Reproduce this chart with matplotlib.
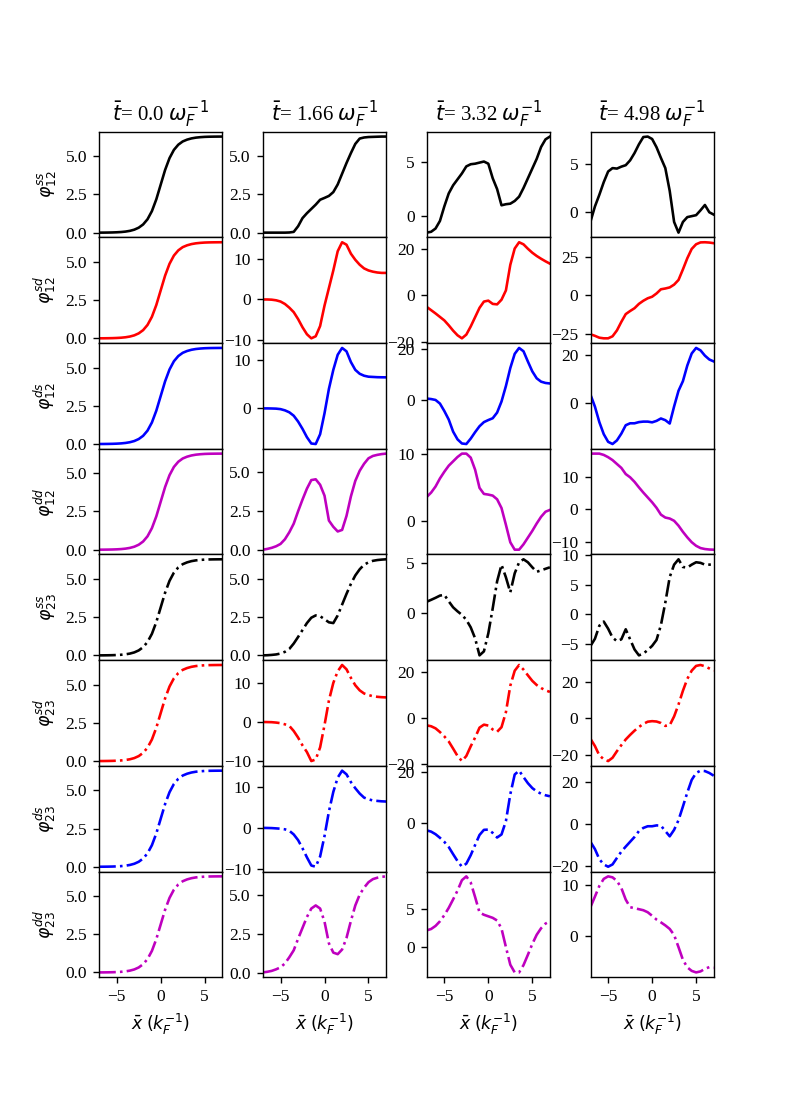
import numpy as np
import matplotlib
matplotlib.use("Agg")
import matplotlib.pyplot as plt

plt.rcParams['font.family'] = ['Liberation Serif', 'DejaVu Serif']
plt.rcParams['mathtext.fontset'] = 'dejavusans'

DPI = 125
x = np.arange(-7.0, 7.01, 0.5)

times = ["0.0", "1.66", "3.32", "4.98"]
ylabels = [r"$\varphi^{ss}_{12}$", r"$\varphi^{sd}_{12}$", r"$\varphi^{ds}_{12}$", r"$\varphi^{dd}_{12}$",
           r"$\varphi^{ss}_{23}$", r"$\varphi^{sd}_{23}$", r"$\varphi^{ds}_{23}$", r"$\varphi^{dd}_{23}$"]
colors = ['k', 'r', 'b', 'm', 'k', 'r', 'b', 'm']
styles = ['-', '-', '-', '-', '-.', '-.', '-.', '-.']

# t = 0.0 (all eight components share the same kink profile)
kink_t0 = [0.004, 0.006, 0.010, 0.016, 0.027, 0.044, 0.073, 0.121, 0.199, 0.328, 0.538, 0.878, 1.41, 2.18,
           3.14, 4.10, 4.87, 5.41, 5.75, 5.96, 6.08, 6.16, 6.21, 6.24, 6.26, 6.27, 6.275, 6.278, 6.28]

# t = 1.66
ss12_t1 = [0, 0, 0, 0, 0, 0, 0.01, 0.05, 0.42, 0.95, 1.27, 1.55, 1.83, 2.15,
           2.27, 2.4, 2.65, 3.15, 3.85, 4.55, 5.2, 5.8, 6.15, 6.22, 6.25, 6.26, 6.27, 6.28, 6.28]
sd12_t1 = [0, 0, -0.05, -0.2, -0.5, -1.1, -2.0, -3.1, -4.8, -6.8, -8.5, -9.5, -9.0, -6.5,
           -1.5, 2.8, 7.1, 11.8, 14.0, 13.4, 11.2, 9.7, 8.5, 7.6, 7.1, 6.8, 6.6, 6.5, 6.5]
ds12_t1 = [0, 0, -0.02, -0.05, -0.15, -0.4, -0.8, -1.5, -2.7, -4.2, -5.9, -7.2, -7.3, -5.3,
           -1.0, 4.0, 7.9, 11.0, 12.4, 11.7, 9.5, 7.9, 7.1, 6.7, 6.5, 6.45, 6.4, 6.38, 6.37]
dd12_t1 = [0.03, 0.08, 0.15, 0.25, 0.4, 0.7, 1.15, 1.7, 2.5, 3.25, 3.95, 4.5, 4.55, 4.2,
           3.5, 1.9, 1.5, 1.2, 1.3, 2.2, 3.45, 4.45, 5.1, 5.55, 5.9, 6.05, 6.12, 6.17, 6.2]
ss23_t1 = [0.0, 0.01, 0.03, 0.06, 0.12, 0.23, 0.42, 0.77, 1.2, 1.65, 2.1, 2.45, 2.6, 2.55,
           2.35, 2.15, 2.1, 2.6, 3.3, 4.0, 4.65, 5.2, 5.6, 5.9, 6.05, 6.15, 6.2, 6.23, 6.25]
sd23_t1 = [0, -0.02, -0.05, -0.15, -0.3, -0.6, -1.0, -2.3, -4.0, -6.0, -7.7, -10.0, -9.6, -6.5,
           -0.8, 5.5, 10.0, 13.0, 14.6, 13.5, 11.3, 9.4, 8.1, 7.3, 6.9, 6.6, 6.45, 6.35, 6.3]
ds23_t1 = [0, -0.02, -0.05, -0.12, -0.2, -0.35, -0.7, -1.6, -3.0, -5.0, -7.2, -9.2, -9.5, -7.0,
           -2.0, 4.0, 8.8, 12.3, 14.0, 13.1, 11.2, 9.7, 8.4, 7.4, 7.0, 6.7, 6.6, 6.5, 6.45]
dd23_t1 = [0.02, 0.06, 0.12, 0.22, 0.35, 0.6, 1.0, 1.45, 2.2, 2.9, 3.6, 4.15, 4.35, 4.15,
           3.3, 1.9, 1.3, 1.2, 1.5, 2.25, 3.35, 4.35, 5.05, 5.5, 5.85, 6.05, 6.14, 6.2, 6.23]

# t = 3.32
ss12_t2 = [-1.53, -1.45, -1.15, -0.45, 0.9, 2.1, 2.85, 3.4, 3.95, 4.6, 4.8, 4.85, 4.95, 5.05,
           4.85, 3.5, 2.5, 1.0, 1.1, 1.15, 1.4, 1.8, 2.6, 3.5, 4.4, 5.3, 6.4, 7.1, 7.36]
sd12_t2 = [-5.1, -6.5, -7.9, -9.4, -10.9, -13.0, -15.3, -17.3, -18.6, -17.0, -13.5, -9.5, -5.5, -2.8,
           -2.4, -3.8, -4.0, -2.0, 2.0, 13.0, 20.0, 22.7, 21.8, 19.9, 18.2, 16.8, 15.6, 14.5, 13.5]
ds12_t2 = [0.65, 0.45, 0.1, -1.3, -4.2, -7.5, -12.2, -15.2, -16.8, -17.0, -14.9, -12.4, -10.1, -8.5,
           -7.7, -7.0, -4.8, -0.5, 5.5, 12.5, 18.0, 20.3, 19.0, 15.0, 11.2, 8.5, 7.2, 6.7, 6.5]
dd12_t2 = [3.55, 4.2, 5.1, 6.3, 7.3, 8.2, 8.85, 9.5, 10.0, 10.0, 9.4, 7.6, 4.9, 4.0,
           3.9, 3.75, 3.2, 1.9, -0.6, -3.2, -4.3, -4.3, -3.5, -2.5, -1.5, -0.4, 0.6, 1.35, 1.62]
ss23_t2 = [1.16, 1.35, 1.55, 1.77, 1.85, 1.2, 0.6, 0.2, -0.15, -0.65, -1.4, -2.5, -4.2, -3.8,
           -2.0, 0.5, 3.2, 4.85, 3.6, 2.1, 4.0, 5.1, 5.4, 5.1, 4.6, 4.15, 4.3, 4.45, 4.6]
sd23_t2 = [-3.2, -3.6, -4.5, -6.1, -8.0, -10.2, -13.3, -16.5, -18.7, -16.5, -12.3, -8.5, -4.2, -2.9,
           -3.3, -5.0, -6.0, -4.0, 2.5, 14.0, 20.5, 23.0, 21.0, 18.5, 16.1, 14.3, 13.0, 12.0, 11.3]
ds23_t2 = [-2.8, -3.3, -4.3, -5.7, -7.3, -9.3, -12.1, -14.8, -17.0, -15.8, -12.5, -8.5, -4.6, -2.6,
           -2.5, -3.8, -5.6, -4.4, 0.8, 11.3, 19.0, 20.5, 18.0, 15.6, 13.7, 12.4, 11.5, 10.9, 10.5]
dd23_t2 = [2.17, 2.35, 2.75, 3.35, 4.15, 5.1, 6.2, 7.35, 8.7, 9.2, 8.4, 6.5, 4.5, 4.2,
           4.0, 3.8, 3.45, 2.4, 0.0, -2.3, -3.3, -3.3, -2.35, -1.0, 0.4, 1.6, 2.45, 3.05, 3.36]

# t = 4.98
ss12_t3 = [-0.94, 0.6, 1.8, 3.1, 4.2, 4.55, 4.5, 4.7, 4.85, 5.35, 6.1, 7.0, 7.75, 7.8,
           7.55, 6.7, 5.6, 4.55, 2.2, -1.0, -2.1, -1.0, -0.5, -0.4, -0.3, 0.2, 0.75, 0.0, -0.24]
sd12_t3 = [-25.0, -26.0, -27.2, -27.6, -27.6, -26.3, -22.5, -17.0, -12.0, -10.0, -8.2, -5.4, -3.4, -1.8,
           -0.8, 1.3, 4.0, 4.5, 5.2, 7.0, 10.0, 16.8, 24.0, 30.0, 33.0, 34.2, 34.3, 34.1, 33.7]
ds12_t3 = [3.3, -1.6, -8.0, -13.0, -16.2, -17.1, -15.6, -12.8, -9.3, -8.5, -8.5, -8.0, -7.8, -7.8,
           -8.1, -7.5, -6.5, -7.2, -8.6, -1.5, 5.0, 9.0, 15.5, 20.5, 22.8, 21.8, 19.6, 18.0, 17.2]
dd12_t3 = [17.2, 17.2, 17.2, 16.8, 16.1, 15.2, 14.0, 12.8, 10.9, 9.9, 8.5, 6.8, 5.2, 3.7,
           2.2, 0.5, -1.6, -2.5, -2.8, -3.5, -5.0, -6.9, -8.6, -10.1, -11.2, -11.9, -12.2, -12.35, -12.4]
ss23_t3 = [-5.3, -4.1, -1.9, -1.2, -2.4, -3.9, -4.5, -4.2, -2.5, -4.2, -5.9, -6.9, -6.6, -6.0,
           -5.3, -4.3, -1.8, 2.0, 6.3, 8.4, 9.3, 8.0, 7.9, 8.4, 8.8, 8.7, 8.4, 8.4, 8.4]
sd23_t3 = [-11.3, -15.2, -20.3, -22.4, -23.4, -21.6, -18.0, -14.7, -11.6, -9.1, -6.8, -4.8, -3.1, -1.9,
           -1.6, -1.8, -2.6, -4.2, -3.8, 1.0, 7.5, 15.0, 21.5, 26.0, 28.6, 29.1, 28.4, 27.2, 26.0]
ds23_t3 = [-8.4, -11.8, -16.6, -19.1, -20.2, -19.1, -16.0, -13.0, -10.6, -8.3, -6.0, -3.2, -1.7, -0.9,
           -0.9, -0.5, -0.6, -3.2, -5.7, -2.6, 2.0, 8.5, 15.2, 21.2, 24.5, 25.6, 25.4, 24.5, 23.2]
dd23_t3 = [5.75, 7.8, 9.9, 11.3, 11.8, 11.6, 10.9, 9.5, 7.2, 5.7, 5.5, 5.3, 5.1, 4.7,
           4.0, 3.25, 2.7, 2.1, 1.4, 0.2, -2.2, -4.7, -6.2, -6.9, -7.2, -7.0, -6.5, -6.15, -6.3]

columns = [
    [kink_t0] * 8,
    [ss12_t1, sd12_t1, ds12_t1, dd12_t1, ss23_t1, sd23_t1, ds23_t1, dd23_t1],
    [ss12_t2, sd12_t2, ds12_t2, dd12_t2, ss23_t2, sd23_t2, ds23_t2, dd23_t2],
    [ss12_t3, sd12_t3, ds12_t3, dd12_t3, ss23_t3, sd23_t3, ds23_t3, dd23_t3],
]

fig, axes = plt.subplots(8, 4, sharex=True, figsize=(793 / DPI, 1098 / DPI), dpi=DPI,
                         gridspec_kw=dict(hspace=0.0, wspace=0.33))

for c in range(4):
    for r in range(8):
        ax = axes[r, c]
        ax.plot(x, columns[c][r], color=colors[r], linestyle=styles[r], linewidth=1.5)
        ax.set_xlim(-7, 7)
        if c == 0:
            ax.set_ylabel(ylabels[r])
    axes[0, c].set_title(r"$\bar{t}$= " + times[c] + r" $\omega_F^{-1}$")
    axes[7, c].set_xlabel(r"$\bar{x}$ $(k_F^{-1})$")
    axes[7, c].set_xticks([-5, 0, 5])

axes[4, 3].set_yticks([-5, 0, 5, 10])

fig.savefig("out.png", dpi=DPI)
